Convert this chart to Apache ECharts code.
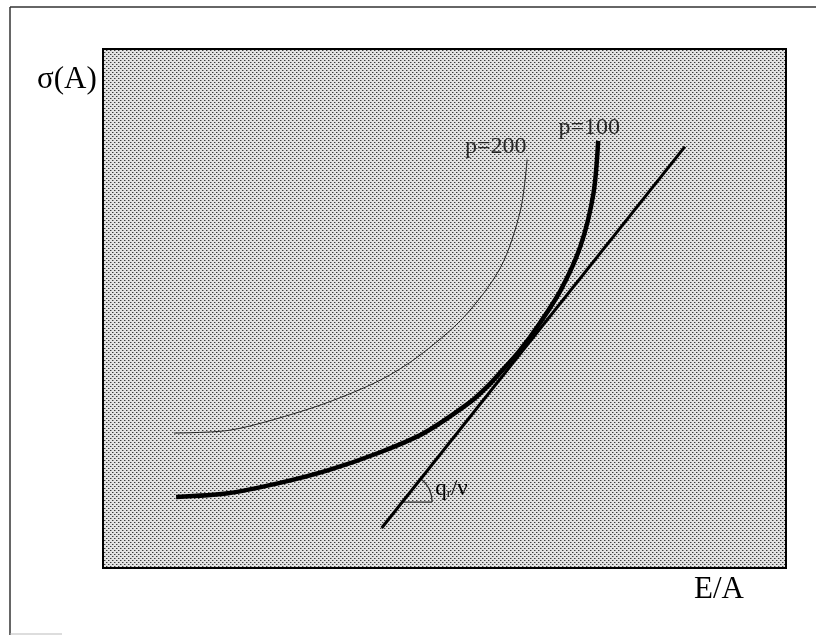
<!DOCTYPE html>
<html>
<head>
<meta charset="utf-8">
<script src="https://cdn.jsdelivr.net/npm/echarts@6/dist/echarts.min.js"></script>
<style>
  html, body { margin: 0; padding: 0; background: #fff; }
  #chart { width: 816px; height: 635px; }
</style>
</head>
<body>
<div id="chart"></div>
<script>
// curve data, in arbitrary units (x: E/A, y: sigma(A))
const p200Curve = [
  [10.4, 26.0], [18.3, 26.5], [25.0, 28.6], [32.9, 31.9], [40.6, 36.2],
  [46.1, 40.7], [52.8, 48.3], [58.2, 57.9], [61.1, 68.8], [62.1, 78.7]
]
const p100Curve = [
  [10.7, 13.7], [18.3, 14.4], [25.6, 16.3], [32.9, 18.8], [40.6, 22.3],
  [47.0, 26.0], [53.8, 32.0], [56.3, 35.0], [58.2, 37.7], [61.0, 41.9],
  [63.6, 46.5], [67.0, 53.5], [69.9, 62.0], [71.8, 72.1], [72.5, 82.3]
]
const tangentLine = [[40.8, 7.7], [85.2, 81.2]]

// labels and annotation anchors
const curveLabels = [
  { name: 'p=200', value: [57.5, 81.2] },
  { name: 'p=100', value: [71.2, 84.8] }
]
const angleVertex = [43.8, 12.7]
const angleDeg = 51.4

const chart = echarts.init(document.getElementById('chart'))

// halftone-ish dot pattern for the plot background
const tile = document.createElement('canvas')
tile.width = 4
tile.height = 4
const tctx = tile.getContext('2d')
tctx.fillStyle = '#e2e2e2'
tctx.fillRect(0, 0, 4, 4)
tctx.fillStyle = '#3c3c3c'
tctx.fillRect(0, 0, 1, 1)
tctx.fillRect(2, 2, 1, 1)
tctx.fillStyle = '#9a9a9a'
tctx.fillRect(1, 0, 1, 1)
tctx.fillRect(3, 2, 1, 1)

const serif = '"Liberation Serif", "DejaVu Serif", serif'

const option = {
  animation: false,
  backgroundColor: '#fff',
  grid: {
    left: 103,
    right: 30,
    top: 49,
    bottom: 67,
    show: true,
    backgroundColor: { image: tile, repeat: 'repeat' },
    borderColor: '#000',
    borderWidth: 2
  },
  xAxis: {
    type: 'value', min: 0, max: 100,
    axisLine: { show: false }, axisTick: { show: false },
    axisLabel: { show: false }, splitLine: { show: false }
  },
  yAxis: {
    type: 'value', min: 0, max: 100,
    axisLine: { show: false }, axisTick: { show: false },
    axisLabel: { show: false }, splitLine: { show: false }
  },
  graphic: [
    // scanned page frame
    { type: 'line', shape: { x1: 10, y1: 7, x2: 816, y2: 7 }, style: { stroke: '#333', lineWidth: 1.5 } },
    { type: 'line', shape: { x1: 10, y1: 7, x2: 10, y2: 635 }, style: { stroke: '#333', lineWidth: 1.5 } },
    { type: 'line', shape: { x1: 10, y1: 634, x2: 62, y2: 634 }, style: { stroke: '#bbb', lineWidth: 1 } },
    {
      type: 'text', left: 37, top: 64,
      style: { text: 'σ(A)', font: '31px ' + serif, fill: '#000' }
    },
    {
      type: 'text', left: 694, top: 574,
      style: { text: 'E/A', font: '31px ' + serif, fill: '#000' }
    }
  ],
  series: [
    {
      name: 'p=200',
      type: 'line',
      data: p200Curve,
      smooth: 0.3,
      symbol: 'none',
      lineStyle: { color: '#222', width: 1 }
    },
    {
      name: 'p=100',
      type: 'line',
      data: p100Curve,
      smooth: 0.3,
      symbol: 'none',
      lineStyle: { color: '#000', width: 4.5 }
    },
    {
      name: 'tangent',
      type: 'line',
      data: tangentLine,
      symbol: 'none',
      lineStyle: { color: '#000', width: 3 }
    },
    {
      name: 'labels',
      type: 'scatter',
      symbolSize: 0,
      data: curveLabels,
      label: {
        show: true,
        position: 'inside',
        formatter: '{b}',
        fontFamily: serif,
        fontSize: 24,
        color: '#000'
      }
    },
    {
      name: 'angle',
      type: 'custom',
      data: [angleVertex],
      renderItem: function (params, api) {
        const c = api.coord([api.value(0), api.value(1)])
        const r = 30
        return {
          type: 'group',
          children: [
            {
              type: 'arc',
              shape: { cx: c[0], cy: c[1], r: r, startAngle: -angleDeg * Math.PI / 180, endAngle: 0 },
              style: { stroke: '#333', lineWidth: 1.3, fill: null }
            },
            {
              type: 'line',
              shape: { x1: c[0], y1: c[1], x2: c[0] + r, y2: c[1] },
              style: { stroke: '#333', lineWidth: 1.3 }
            },
            {
              type: 'text',
              x: c[0] + r + 3,
              y: c[1] - 13,
              style: {
                text: '{q|q}{r|r}{q|/ν}',
                rich: {
                  q: { fontFamily: serif, fontSize: 23, fill: '#000' },
                  r: { fontFamily: serif, fontSize: 13, fill: '#000', padding: [9, 0, 0, 0] }
                },
                verticalAlign: 'middle'
              }
            }
          ]
        }
      }
    }
  ]
}

chart.setOption(option)
window.addEventListener('resize', () => {
  chart.resize()
})
</script>
</body>
</html>
